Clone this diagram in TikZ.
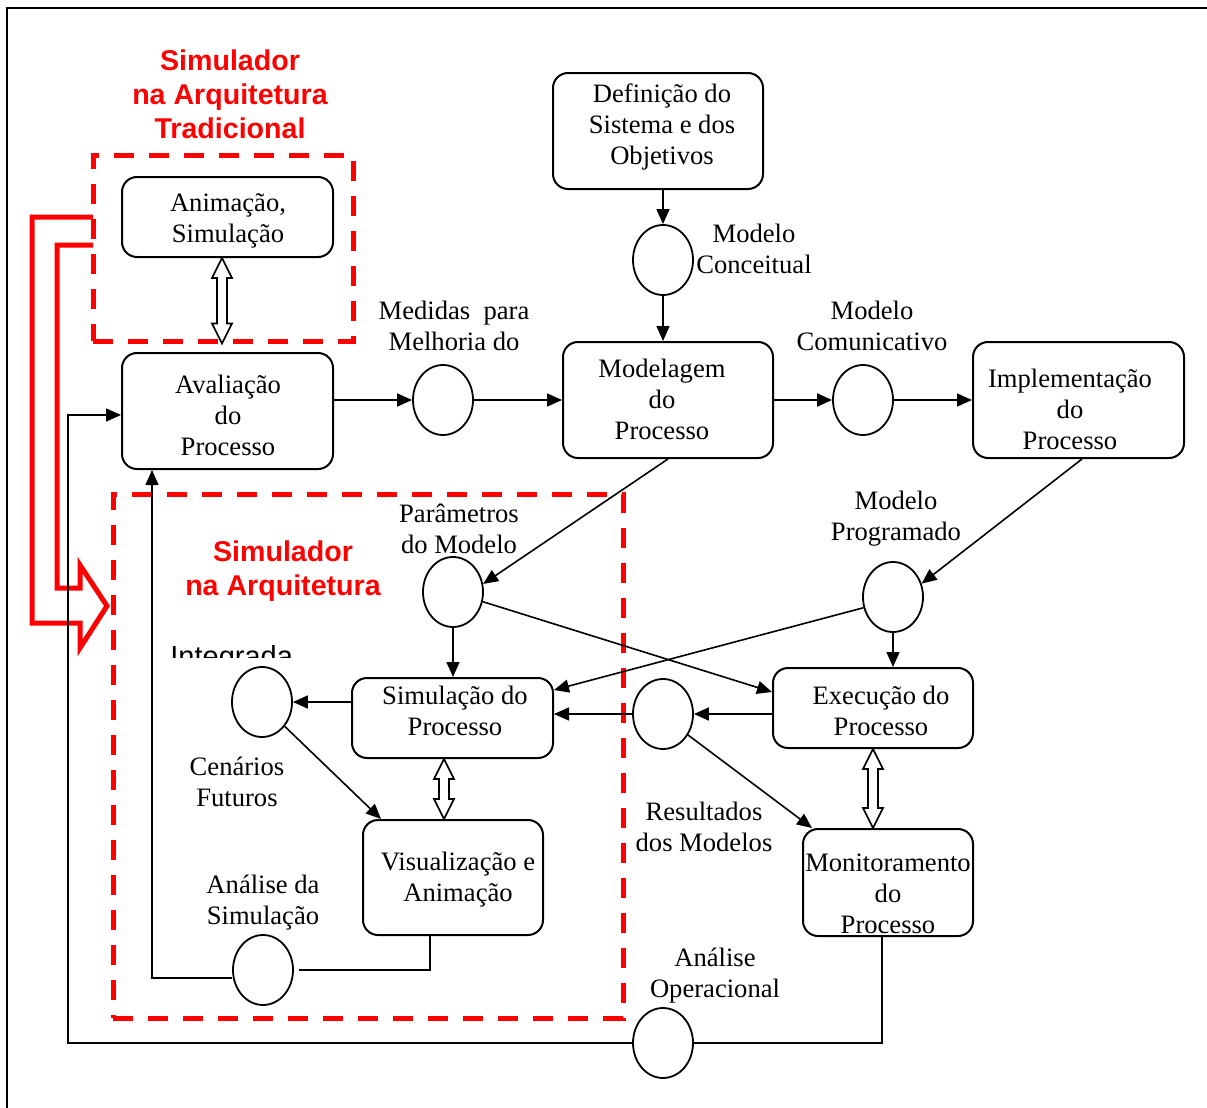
\documentclass[tikz,border=0pt]{standalone}
\usepackage{fontspec}
\setmainfont{Liberation Serif}
\newfontfamily\arialfont{Liberation Sans}
\usetikzlibrary{arrows.meta,shapes.geometric,calc,fit}
\newcommand\hollowarrow[2]{%
  \draw[dbl] (#1) -- ++(10,20) -- ++(-5,0) -- ($(#2)+(5,-20)$) -- ++(5,0) -- (#2)
    -- ++(-10,-20) -- ++(5,0) -- ($(#1)+(-5,20)$) -- ++(-5,0) -- cycle;}
\begin{document}
\begin{tikzpicture}[x=0.5pt,y=-0.5pt,
  box/.style={draw, line width=1pt, rounded corners=7.5pt, inner sep=0pt},
  circ/.style={draw, ellipse, line width=0.9pt, minimum width=30pt, minimum height=35pt, inner sep=0pt},
  txt/.style={align=center, font=\fontsize{13.3}{15.5}\selectfont, inner sep=0pt},
  redtitle/.style={align=center, text=red, font=\arialfont\bfseries\fontsize{14.3}{17}\selectfont, inner sep=0pt},
  conn/.style={line width=0.8pt},
  arr/.style={conn, -{Triangle[length=7.5pt,width=6.5pt]}},
  reddash/.style={draw=red, line width=2.5pt, dash pattern=on 10pt off 7.5pt, inner sep=0pt},
  redarrow/.style={draw=red, line width=2.5pt, line join=miter},
  dbl/.style={draw, line width=0.8pt, fill=white}]
\useasboundingbox (0,0) rectangle (1207,1108);
% frame
\draw[line width=1pt] (7,1108) -- (7,8) -- (1207,8);

% dashed red regions
\node[reddash, fit={(93,155)(353,341)}] (trad) {};
\node[reddash, fit={(113,494)(623,1018)}] (integ) {};

% red titles
\node[redtitle] (t1) at (230,94) {Simulador\\na Arquitetura\\Tradicional};
\node[redtitle] (t2) at (283,571) {Simulador\\na Arquitetura};
\begin{scope}
  \clip (150,600) rectangle (320,657);
  \node[font=\arialfont\fontsize{14.5}{17}\selectfont, anchor=base west, inner sep=0pt] (integtxt) at (170,666) {Integrada};
\end{scope}

% red bent block arrow
\draw[redarrow] (93,217) -- (32,217) -- (32,623) -- (80,623) -- (80,648) -- (107,606)
  -- (80,565) -- (80,588) -- (57,588) -- (57,245) -- (93,245);

% boxes
\node[box, minimum width=105pt, minimum height=58pt] (def) at (658,131) {};
\node[txt] (deft) at (662,127) {Definição do\\Sistema e dos\\Objetivos};
\node[box, minimum width=105pt, minimum height=58pt] (mod) at (668,400) {};
\node[txt] (modt) at (662,399) {Modelagem\\do\\Processo};
\node[box, minimum width=105.5pt, minimum height=58pt] (aval) at (227.5,411) {};
\node[txt] (avalt) at (228,415) {Avaliação\\do\\Processo};
\node[box, minimum width=105.5pt, minimum height=58pt] (impl) at (1078.5,400) {};
\node[txt] (implt) at (1070,409) {Implementação\\do\\Processo};
\node[box, minimum width=105.5pt, minimum height=40pt] (anim) at (227.5,217) {};
\node[txt] (animt) at (228,221) {Animação,\\Simulação};
\node[box, minimum width=100.5pt, minimum height=40pt] (sim) at (452.5,718) {};
\node[txt] (simt) at (455,711) {Simulação do\\Processo};
\node[box, minimum width=100pt, minimum height=40pt] (exe) at (873,708) {};
\node[txt] (exet) at (881,711) {Execução do\\Processo};
\node[box, minimum width=90pt, minimum height=57.5pt] (vis) at (453,877.5) {};
\node[txt] (vist) at (458,880) {Visualização e\\Animação};
\node[box, minimum width=85pt, minimum height=53.5pt] (mon) at (888,882.5) {};
\node[txt] (mont) at (888,894) {Monitoramento\\do\\Processo};

% circles
\node[circ] (mc) at (663,260) {};
\node[circ] (med) at (443,400) {};
\node[circ] (mcom) at (863,400) {};
\node[circ] (mp) at (893,597) {};
\node[circ] (par) at (453,592) {};
\node[circ] (res) at (663,714) {};
\node[circ] (cen) at (262,702) {};
\node[circ] (anasim) at (263,970) {};
\node[circ] (anop) at (663,1043) {};

% labels
\node[txt] (mcl) at (754,249) {Modelo\\Conceitual};
\node[txt] (medl) at (454,326) {Medidas\ \ para\\Melhoria do};
\node[txt] (mcoml) at (872,326) {Modelo\\Comunicativo};
\node[txt] (mpl) at (896,519) {Modelo\\Programado};
\node[txt] (parl) at (459,529) {Parâmetros\\do Modelo};
\node[txt] (resl) at (704,827) {Resultados\\dos Modelos};
\node[txt] (cenl) at (237,782) {Cenários\\Futuros};
\node[txt] (anasiml) at (263,903) {Análise da\\Simulação};
\node[txt] (anopl) at (715,976) {Análise\\Operacional};

% connectors
\draw[arr] (mc.north |- def.south) -- (mc.north);
\draw[arr] (mc.south) -- (mc.south |- mod.north);
\draw[arr] (aval.east |- med.west) -- (med.west);
\draw[arr] (med.east) -- (med.east -| mod.west);
\draw[arr] (mod.east |- mcom.west) -- (mcom.west);
\draw[arr] (mcom.east) -- (mcom.east -| impl.west);
\draw[arr] ([xshift=1.75pt]impl.south) -- (mp.25);
\draw[arr] (mod.south) -- (par.15);
\draw[arr] (par.south) -- (par.south |- sim.north);
\draw[arr] (par.-18) -- ([yshift=8pt]exe.west);
\draw[arr] (mp.200) -- ([yshift=14pt]sim.east);
\draw[arr] (mp.south) -- (mp.south |- exe.north);
\draw[arr] (exe.west |- res.east) -- (res.east);
\draw[arr] (res.west) -- (res.west -| sim.east);
\draw[arr] (res.-40) -- ([xshift=5pt]mon.north west);
\draw[arr] (sim.west |- cen.east) -- (cen.east);
\draw[arr] (cen.-47) -- ([xshift=9.5pt]vis.north west);
\draw[conn] ([xshift=-11.5pt]vis.south) |- ([xshift=2.5pt]anasim.east);
\draw[arr] ([yshift=-4pt]anasim.west) -| ([xshift=-37.75pt]aval.south);
\draw[conn] ([xshift=-3pt]mon.south) |- (anop.east);
\coordinate (fb) at (68,1043);
\draw[arr] (anop.west) -- (fb) |- ([yshift=-2pt]aval.west);

% hollow double arrows
\coordinate (a1) at ([xshift=-2.75pt]anim.south);
\coordinate (a2) at (a1 |- trad.south);
\hollowarrow{a1}{a2}
\coordinate (s1) at ([xshift=-4.25pt]sim.south);
\coordinate (s2) at (s1 |- vis.north);
\hollowarrow{s1}{s2}
\coordinate (e1) at (exe.south);
\coordinate (e2) at (e1 |- mon.north);
\hollowarrow{e1}{e2}
\end{tikzpicture}
\end{document}
